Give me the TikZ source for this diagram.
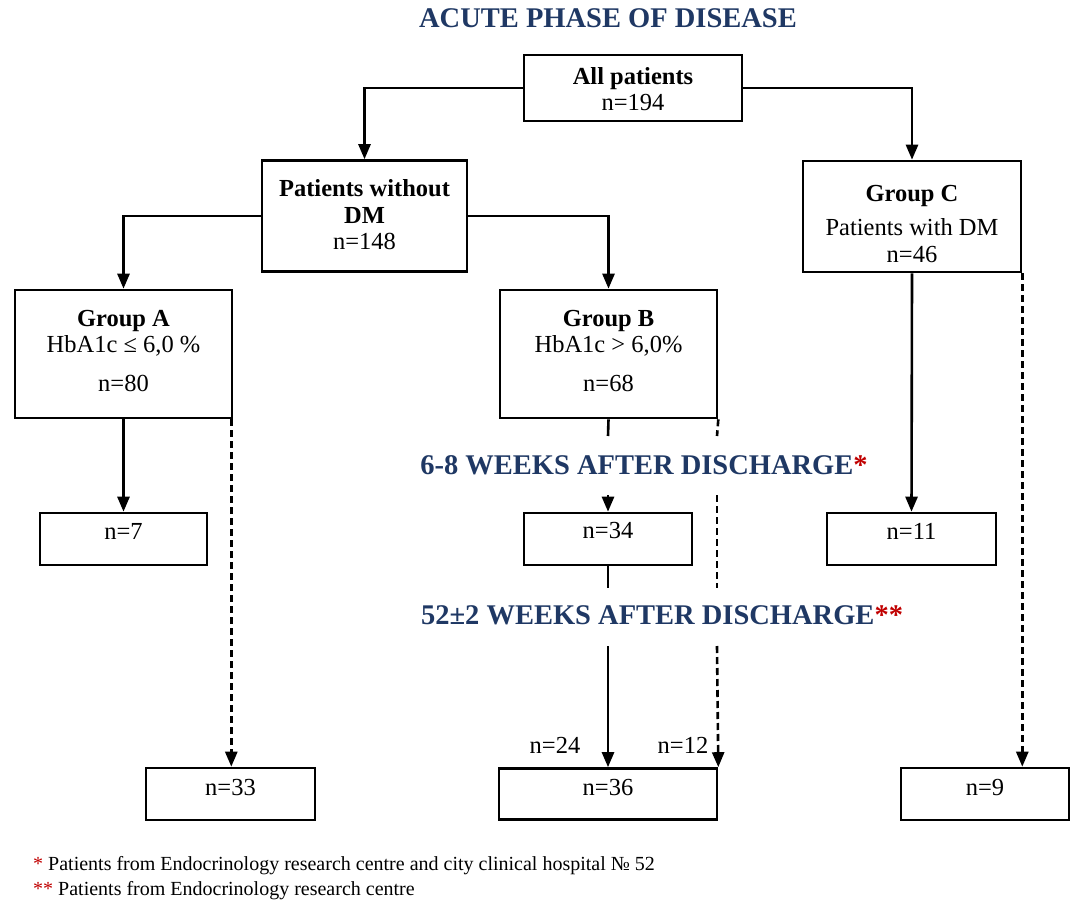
\documentclass[tikz,border=0pt]{standalone}
\usepackage{fontspec}
\setmainfont{Liberation Serif}
\usetikzlibrary{arrows.meta}
\definecolor{navy}{HTML}{1F3864}
\definecolor{starred}{HTML}{C00000}
\tikzset{
  box/.style={draw, line width=2.6pt, rectangle, inner sep=0pt},
  txt/.style={align=center, font=\fontsize{24.5}{26.5}\selectfont, inner sep=0pt},
  phase/.style={font=\fontsize{28.5}{32}\selectfont\bfseries, text=navy, inner sep=0pt},
  note/.style={font=\fontsize{20}{23}\selectfont, inner sep=0pt, anchor=west},
  conn/.style={line width=2.6pt},
  arr/.style={line width=2.6pt, -{Triangle[length=15pt,width=12pt]}},
  dconn/.style={line width=2.6pt, dash pattern=on 7pt off 4pt},
  darr/.style={line width=2.6pt, dash pattern=on 7pt off 4pt, -{Triangle[length=15pt,width=12pt]}}
}
\begin{document}
\begin{tikzpicture}[x=1pt,y=-1pt]
\useasboundingbox (0,0) rectangle (1073,901);
% title
\node[phase] (title) at (608,18) {ACUTE PHASE OF DISEASE};
% boxes
\node[box, minimum width=218pt, minimum height=66pt] (all) at (633,88) {};
\node[txt] (allt) at (633,89) {\textbf{All patients}\\n=194};
\node[box, minimum width=205pt, minimum height=111pt] (pw) at (364.5,216) {};
\node[txt] (pwt) at (364.5,215) {\textbf{Patients without}\\\textbf{DM}\\n=148};
\node[box, minimum width=218pt, minimum height=111pt] (gc) at (912,216.5) {};
\node[txt] (gct) at (912,224) {\textbf{Group C}\\[8pt]Patients with DM\\n=46};
\node[box, minimum width=217pt, minimum height=128pt] (gb) at (608.5,354) {};
\node[txt] (gbt) at (608.5,351) {\textbf{Group B}\\HbA1c > 6,0\%\\[12pt]n=68};
\node[box, minimum width=217pt, minimum height=128pt] (ga) at (123.5,354) {};
\node[txt] (gat) at (123.5,351) {\textbf{Group A}\\HbA1c ≤ 6,0 \%\\[12pt]n=80};
\node[box, minimum width=167pt, minimum height=52pt] (n7) at (123.5,539) {};
\node[txt] (n7t) at (123.5,531) {n=7};
\node[box, minimum width=168pt, minimum height=52pt] (n34) at (608,539) {};
\node[txt] (n34t) at (608,531) {n=34};
\node[box, minimum width=169pt, minimum height=52pt] (n11) at (911.5,539) {};
\node[txt] (n11t) at (911.5,531) {n=11};
\node[box, minimum width=169pt, minimum height=52pt] (n33) at (230.5,794) {};
\node[txt] (n33t) at (230.5,788) {n=33};
\node[box, minimum width=218pt, minimum height=51pt] (n36) at (608,794) {};
\node[txt] (n36t) at (608,788) {n=36};
\node[box, minimum width=168pt, minimum height=52pt] (n9) at (985,794) {};
\node[txt] (n9t) at (985,788) {n=9};
% phase labels
\node[phase] (p1) at (644,465) {6-8 WEEKS AFTER DISCHARGE\textcolor{starred}{*}};
\node[phase] (p2) at (662,615) {52±2 WEEKS AFTER DISCHARGE\textcolor{starred}{**}};
% flow labels
\node[txt] (l24) at (555,745) {n=24};
\node[txt] (l12) at (683,745) {n=12};
% coordinates for gaps
\coordinate (bs1) at (608,436);
\coordinate (bs2) at (608,495);
\coordinate (bs3) at (608,588);
\coordinate (bs4) at (608,646);
\coordinate (bd1) at (717,436);
\coordinate (bd2) at (717,495);
\coordinate (bd3) at (717,588);
\coordinate (bd4) at (717,646);
% connectors
\draw[arr] (all.west) -| (pw.north);
\draw[arr] (all.east) -| (gc.north);
\draw[arr] (pw.west) -| (ga.north);
\draw[arr] (pw.east) -| (gb.north);
\draw[arr] (ga.south) -- (n7.north);
\draw[darr] ([xshift=-2pt]ga.south east) -- ([xshift=-2pt]ga.south east |- n33.north);
\draw[conn] (gb.south) -- (bs1);
\draw[arr] (bs2) -- (n34.north);
\draw[conn] (n34.south) -- (bs3);
\draw[arr] (bs4) -- (n36.north);
\draw[dconn] (gb.south east) -- (bd1);
\draw[dconn] (bd2) -- (bd3);
\draw[darr] (bd4) -- (n36.north east);
\draw[arr] (gc.south) -- (n11.north);
\draw[darr] (gc.south east) -- (gc.south east |- n9.north);
% footnotes
\node[note] (f1) at (33,866) {\textcolor{starred}{*} Patients from Endocrinology research centre and city clinical hospital № 52};
\node[note] (f2) at (33,891) {\textcolor{starred}{**} Patients from Endocrinology research centre};
\end{tikzpicture}
\end{document}
